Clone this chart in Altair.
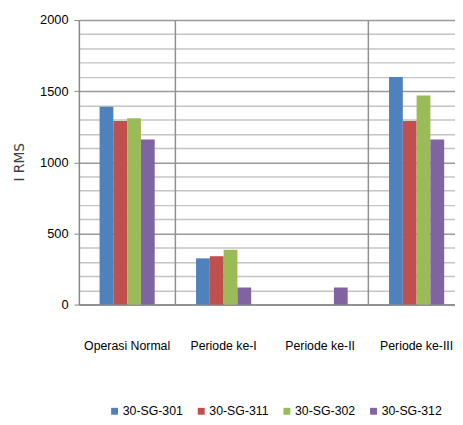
import altair as alt
import pandas as pd

categories = ["Operasi Normal", "Periode ke-I", "Periode ke-II", "Periode ke-III"]
series = ["30-SG-301", "30-SG-311", "30-SG-302", "30-SG-312"]
colors = ["#4F81BD", "#C0504D", "#9BBB59", "#8064A2"]
values = {
    "30-SG-301": [1390, 325, 0, 1600],
    "30-SG-311": [1290, 340, 0, 1290],
    "30-SG-302": [1310, 385, 0, 1470],
    "30-SG-312": [1160, 120, 120, 1160],
}
y_ticks = list(range(0, 2001, 100))
divider_cats = ["Periode ke-I", "Periode ke-III"]

rows = []
for s in series:
    for c, v in zip(categories, values[s]):
        rows.append({"cat": c, "series": s, "val": v})
df = pd.DataFrame(rows)
div_df = pd.DataFrame({"cat": divider_cats})

FONT = "Liberation Sans"

xscale = alt.Scale(domain=categories, range=[0, 392], paddingInner=0, paddingOuter=0)

bars = alt.Chart(df).mark_bar().encode(
    x=alt.X("cat:N", scale=xscale, sort=categories,
            axis=alt.Axis(title=None, labelAngle=0, ticks=False, labelPadding=36,
                          labelFontSize=12.5, labelColor="#000000", labelFont=FONT,
                          domainColor="#888888", domainWidth=1.5, grid=False)),
    xOffset=alt.XOffset("series:N", sort=series,
                        scale=alt.Scale(domain=series, range=[21, 77], paddingInner=0, paddingOuter=0)),
    y=alt.Y("val:Q", scale=alt.Scale(domain=[0, 2000], nice=False),
            axis=alt.Axis(title="I RMS", values=y_ticks, format="d",
                          labelExpr="datum.value % 500 === 0 ? datum.label : ''",
                          labelFontSize=13, labelFont=FONT, labelColor="#000000",
                          labelPadding=6,
                          tickSize=5, tickColor="#888888",
                          tickOpacity=alt.condition("datum.value % 500 === 0", alt.value(1), alt.value(0)),
                          gridColor=alt.condition("datum.value % 500 === 0", alt.value("#9a9a9a"), alt.value("#c4c4c4")),
                          gridWidth=1.5,
                          domainColor="#888888", domainWidth=1.5,
                          titleFont="DejaVu Sans", titleFontSize=14, titleFontWeight="normal",
                          titleColor="#404040", titleX=-60, titleY=144, titleAngle=270,
                          titleAlign="center", titleBaseline="middle")),
    color=alt.Color("series:N", sort=series,
                    scale=alt.Scale(domain=series, range=colors),
                    legend=alt.Legend(title=None, orient="none", legendX=30, legendY=391,
                                      direction="horizontal", columns=4,
                                      symbolType="square", symbolSize=49, symbolStrokeWidth=0,
                                      labelFontSize=12.5, labelFont=FONT, labelColor="#000000",
                                      labelOffset=2, columnPadding=12)),
)

dividers = alt.Chart(div_df).mark_rule(color="#909090", strokeWidth=1.5).encode(
    x=alt.X("cat:N", scale=xscale, sort=categories, bandPosition=0),
)

chart = alt.layer(bars, dividers).properties(
    width=382, height=289,
    autosize=alt.AutoSizeParams(type="none"),
    padding={"left": 72, "top": 9, "right": 0, "bottom": 114},
).configure_view(stroke=None).configure(background="#ffffff")

chart.save("out.html", embed_options={"renderer": "svg", "actions": False})
